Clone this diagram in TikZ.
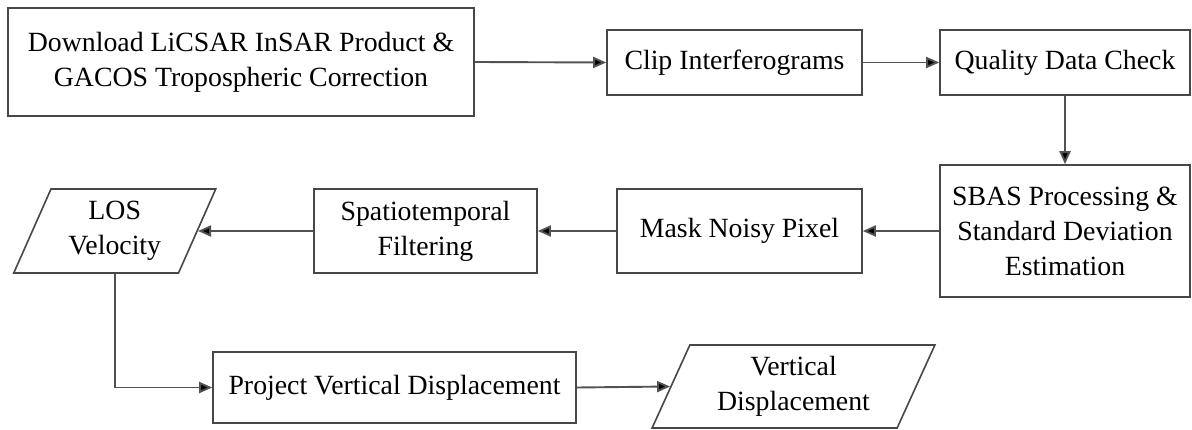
\documentclass[tikz,border=0pt]{standalone}
\usepackage{fontspec}
\setmainfont{Liberation Serif}
\usetikzlibrary{arrows.meta,shapes.geometric}
\begin{document}
\begin{tikzpicture}[x=1pt,y=-1pt,
  every node/.style={font=\fontsize{27.8}{35}\selectfont, align=center, inner sep=2pt},
  procbox/.style={draw=black!72, line width=1.6pt, rectangle},
  iobox/.style={draw=black!72, line width=1.6pt, trapezium, trapezium left angle=66, trapezium right angle=114, trapezium stretches=true},
  conn/.style={draw=black!68, line width=1.9pt, -{Triangle[length=13pt,width=11pt,fill=black]}}
]
\useasboundingbox (0,0) rectangle (1192,430);
\fill[white] (0,0) rectangle (1192,430);
\node[procbox, minimum width=466pt, minimum height=108pt] (dl) at (241,62) {Download LiCSAR InSAR Product \&\\GACOS Tropospheric Correction};
\node[procbox, minimum width=255pt, minimum height=65pt] (clip) at (734.5,62.5) {Clip Interferograms};
\node[procbox, minimum width=250pt, minimum height=65pt] (qual) at (1065,62.5) {Quality Data Check};
\node[procbox, minimum width=250pt, minimum height=132pt] (sbas) at (1065,231) {SBAS Processing \&\\Standard Deviation\\Estimation};
\node[procbox, minimum width=245pt, minimum height=84pt] (mask) at (739.5,231) {Mask Noisy Pixel};
\node[procbox, minimum width=223pt, minimum height=84pt] (spat) at (425.5,231) {Spatiotemporal\\Filtering};
\node[iobox, minimum width=202pt, minimum height=84pt] (los) at (114.75,231) {LOS\\Velocity};
\node[procbox, minimum width=363pt, minimum height=71pt] (proj) at (394.5,387.5) {Project Vertical Displacement};
\node[iobox, minimum width=283pt, minimum height=83pt] (vd) at (793.5,386.5) {Vertical\\Displacement};

\draw[conn] (dl.east) -- (clip.west);
\draw[conn] (clip.east) -- (qual.west);
\draw[conn] (qual.south) -- (sbas.north);
\draw[conn] (sbas.west) -- (mask.east);
\draw[conn] (mask.west) -- (spat.east);
\draw[conn] (spat.west) -- (los.east);
\draw[conn] (los.south) |- (proj.west);
\draw[conn] (proj.east) -- (vd.west);
\end{tikzpicture}
\end{document}
